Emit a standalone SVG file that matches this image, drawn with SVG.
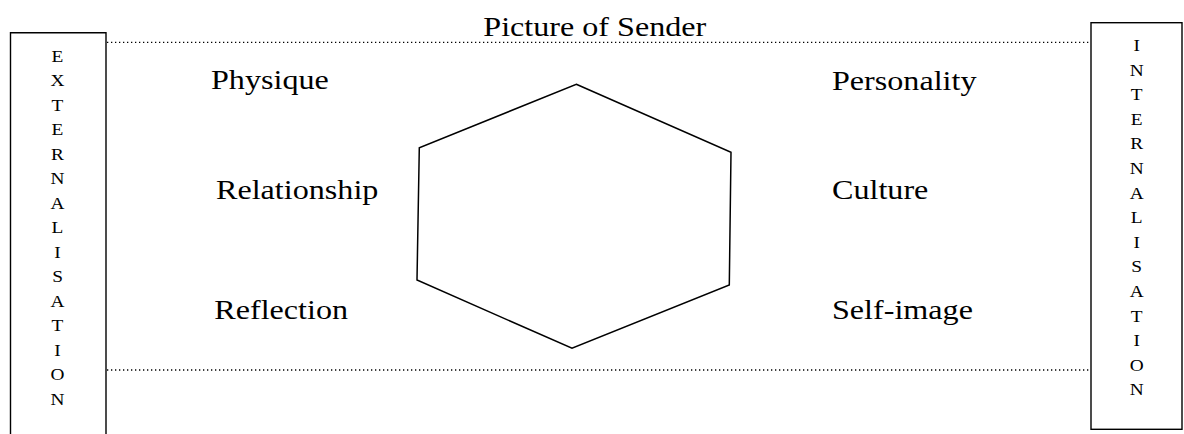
<svg xmlns="http://www.w3.org/2000/svg" width="1184" height="434" viewBox="0 0 1184 434">
<style>
text{font-family:"Liberation Serif","Times New Roman","DejaVu Serif",serif;fill:#000}
.t{font-size:27.7px}
.l{font-size:16.8px;text-anchor:middle}
.box{fill:none;stroke:#000;stroke-width:1.4}
.dot{stroke:#000;stroke-width:1.3;stroke-dasharray:1.3 2.7;fill:none}
</style>
<rect width="1184" height="434" fill="#fff"/>
<g id="connectors">
<line class="dot" x1="107" y1="42.3" x2="1090" y2="42.3"/>
<line class="dot" x1="107" y1="370" x2="1090" y2="370"/>
</g>
<g id="title"><text class="t" transform="translate(483.3,36) scale(1.16,1)">Picture of Sender</text></g>
<g id="externalisation">
<path class="box" d="M10.5,434 V32.7 H106 V434"/>
<g transform="translate(57.5,0) scale(1.15,1)">
<text class="l" x="0" y="61.7">E</text>
<text class="l" x="0" y="86.2">X</text>
<text class="l" x="0" y="110.7">T</text>
<text class="l" x="0" y="135.2">E</text>
<text class="l" x="0" y="159.7">R</text>
<text class="l" x="0" y="184.2">N</text>
<text class="l" x="0" y="208.7">A</text>
<text class="l" x="0" y="233.2">L</text>
<text class="l" x="0" y="257.7">I</text>
<text class="l" x="0" y="282.2">S</text>
<text class="l" x="0" y="306.7">A</text>
<text class="l" x="0" y="331.2">T</text>
<text class="l" x="0" y="355.7">I</text>
<text class="l" x="0" y="380.2">O</text>
<text class="l" x="0" y="404.7">N</text>
</g>
</g>
<g id="internalisation">
<rect class="box" x="1091" y="22.7" width="91" height="406.6"/>
<g transform="translate(1136.7,0) scale(1.15,1)">
<text class="l" x="0" y="51">I</text>
<text class="l" x="0" y="75.6">N</text>
<text class="l" x="0" y="100.2">T</text>
<text class="l" x="0" y="124.8">E</text>
<text class="l" x="0" y="149.4">R</text>
<text class="l" x="0" y="174">N</text>
<text class="l" x="0" y="198.6">A</text>
<text class="l" x="0" y="223.2">L</text>
<text class="l" x="0" y="247.8">I</text>
<text class="l" x="0" y="272.4">S</text>
<text class="l" x="0" y="297">A</text>
<text class="l" x="0" y="321.6">T</text>
<text class="l" x="0" y="346.2">I</text>
<text class="l" x="0" y="370.8">O</text>
<text class="l" x="0" y="395.4">N</text>
</g>
</g>
<g id="hexagon">
<polygon points="576.3,84.3 731,152.3 729.3,285 572,348.3 417,280 419.3,147.7" fill="none" stroke="#000" stroke-width="1.5"/>
</g>
<g id="physique"><text class="t" transform="translate(211,89.3) scale(1.16,1)">Physique</text></g>
<g id="relationship"><text class="t" transform="translate(216,199.3) scale(1.16,1)">Relationship</text></g>
<g id="reflection"><text class="t" transform="translate(214.3,319.3) scale(1.16,1)">Reflection</text></g>
<g id="personality"><text class="t" transform="translate(832,90) scale(1.16,1)">Personality</text></g>
<g id="culture"><text class="t" transform="translate(832,199.3) scale(1.16,1)">Culture</text></g>
<g id="selfimage"><text class="t" transform="translate(832,319.3) scale(1.16,1)">Self-image</text></g>
</svg>
